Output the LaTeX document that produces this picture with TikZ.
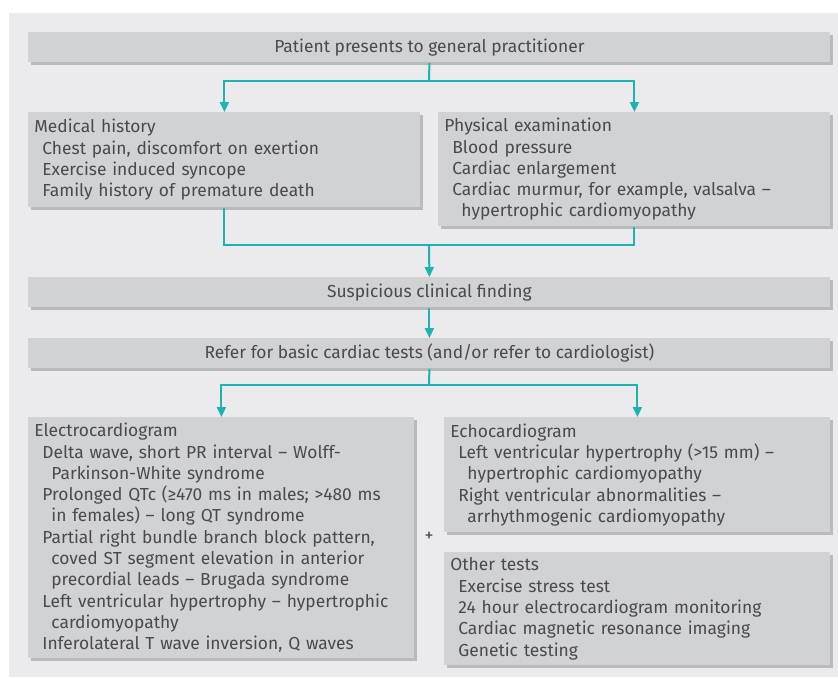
\documentclass[tikz,border=0pt]{standalone}
\usepackage{fontspec}
\setmainfont{Fira Sans}
\usetikzlibrary{positioning, arrows.meta, shadows, calc}
\definecolor{panelgray}{HTML}{EBEBED}
\definecolor{boxgray}{HTML}{D1D2D4}
\definecolor{shadowgray}{HTML}{B9BABC}
\definecolor{textgray}{HTML}{4A4A4C}
\definecolor{flowteal}{HTML}{1DB3B3}
\newcommand{\itm}{\hspace*{4pt}}
\newcommand{\cnt}{\hspace*{8.5pt}}
\tikzset{
        box/.style={
            anchor=north west, fill=boxgray, text=textgray, align=left,
            inner xsep=3pt, inner ysep=0pt,
            font=\fontsize{8.7}{10.65}\selectfont,
            drop shadow={shadow xshift=1.5pt, shadow yshift=-1.5pt, fill=shadowgray, opacity=1}
        },
        bar/.style={box, align=center, minimum width=401pt, minimum height=15pt},
        flow/.style={draw=flowteal, line width=1pt, -{Triangle[length=5pt, width=4.5pt]}},
        link/.style={draw=flowteal, line width=1pt},
}
\begin{document}
\begin{tikzpicture}[x=0.5pt, y=-0.5pt]

        % BACKGROUND
        \useasboundingbox (0,0) rectangle (838,677);
        \fill[panelgray] (9,13) rectangle (838,677);

        % DRAW NODES
        \node[bar] (patient) at (28,32)  {Patient presents to general practitioner};
        \node[box, text width=190pt, minimum height=47.5pt] (history) at (28,112)
            {Medical history\\
             \itm Chest pain, discomfort on exertion\\
             \itm Exercise induced syncope\\
             \itm Family history of premature death};
        \node[box, text width=190pt, minimum height=57pt] (exam) at (438,112)
            {Physical examination\\
             \itm Blood pressure\\
             \itm Cardiac enlargement\\
             \itm Cardiac murmur, for example, valsalva --\\
             \cnt hypertrophic cardiomyopathy};
        \node[bar] (finding) at (28,277) {Suspicious clinical finding};
        \node[bar] (refer)   at (28,338) {Refer for basic cardiac tests (and/or refer to cardiologist)};
        \node[box, text width=187pt, minimum height=120.5pt] (ecg) at (28,417)
            {Electrocardiogram\\
             \itm Delta wave, short PR interval -- Wolff-\\
             \cnt Parkinson-White syndrome\\
             \itm Prolonged QTc (≥470 ms in males; >480 ms\\
             \cnt in females) -- long QT syndrome\\
             \itm Partial right bundle branch block pattern,\\
             \cnt coved ST segment elevation in anterior\\
             \cnt precordial leads -- Brugada syndrome\\
             \itm Left ventricular hypertrophy -- hypertrophic\\
             \cnt cardiomyopathy\\
             \itm Inferolateral T wave inversion, Q waves};
        \node[box, text width=187pt, minimum height=57.5pt] (echo) at (444,417)
            {Echocardiogram\\
             \itm Left ventricular hypertrophy (>15 mm) --\\
             \cnt hypertrophic cardiomyopathy\\
             \itm Right ventricular abnormalities --\\
             \cnt arrhythmogenic cardiomyopathy};
        \node[box, text width=187pt, minimum height=56.5pt] (other) at (444,552)
            {Other tests\\
             \itm Exercise stress test\\
             \itm 24 hour electrocardiogram monitoring\\
             \itm Cardiac magnetic resonance imaging\\
             \itm Genetic testing};
        \node[text=textgray, font=\fontsize{9}{10}\selectfont] (plus) at (429,537) {+};

        % SPLIT AND JOIN POINTS
        \coordinate (split1) at (429,81);
        \coordinate (join1)  at (429,245);
        \coordinate (split2) at (429,385);

        % CONNECT
        \draw[link] (patient.south) -- (split1);
        \draw[flow] (split1) -| (history.north);
        \draw[flow] (split1) -| (exam.north);
        \draw[link] (history.south) |- (join1);
        \draw[link] (exam.south) |- (join1);
        \draw[flow] (join1) -- (finding.north);
        \draw[flow] (finding.south) -- (refer.north);
        \draw[link] (refer.south) -- (split2);
        \draw[flow] (split2) -| (ecg.north);
        \draw[flow] (split2) -| (echo.north);

\end{tikzpicture}
\end{document}
